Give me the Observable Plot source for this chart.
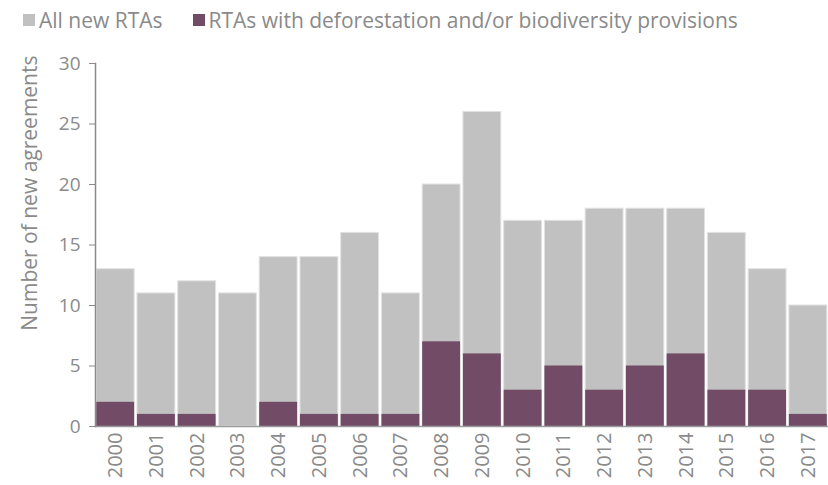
<!DOCTYPE html>
<html>
<head>
<meta charset="utf-8">
<script src="https://cdn.jsdelivr.net/npm/d3@7"></script>
<script src="https://cdn.jsdelivr.net/npm/@observablehq/plot@0.6"></script>
<style>
  body { margin: 0; background: #fff; font-family: "Open Sans", sans-serif; }
  #legend { height: 40px; display: flex; align-items: center; padding-left: 23px; font-size: 21px; color: #8a8a8a; }
  .item { display: flex; align-items: center; margin-right: 30px; }
  .sw { width: 12px; height: 12px; margin-right: 4px; }
</style>
</head>
<body>
<div id="legend"></div>
<div id="chart"></div>
<script>
const years = ["2000","2001","2002","2003","2004","2005","2006","2007","2008","2009","2010","2011","2012","2013","2014","2015","2016","2017"];
const allRTAs = [13,11,12,11,14,14,16,11,20,26,17,17,18,18,18,16,13,10];
const deforRTAs = [2,1,1,0,2,1,1,1,7,6,3,5,3,5,6,3,3,1];
const seriesNames = ["All new RTAs", "RTAs with deforestation and/or biodiversity provisions"];
const colors = ["#c0c1c0", "#724c66"];
const yTicks = [0,5,10,15,20,25,30];
const yLabel = "Number of new agreements";

const data = years.map((y, i) => ({year: y, all: allRTAs[i], defor: deforRTAs[i]}));

const legend = document.getElementById("legend");
seriesNames.forEach((n, i) => {
  const it = document.createElement("div");
  it.className = "item";
  it.innerHTML = `<div class="sw" style="background:${colors[i]}"></div><span>${n}</span>`;
  legend.appendChild(it);
});

const chart = Plot.plot({
  width: 828,
  height: 445,
  marginTop: 23,
  marginBottom: 59,
  marginLeft: 95,
  marginRight: 0,
  style: {fontFamily: "Open Sans, sans-serif", fontSize: "19px", color: "#8a8a8a", background: "#fff"},
  x: {domain: years, paddingInner: 0.07, paddingOuter: 0.03, round: false, label: null},
  y: {domain: [0, 30], label: null},
  marks: [
    Plot.barY(data, {x: "year", y: "all", fill: colors[0], stroke: "#e2e2e2", strokeWidth: 1}),
    Plot.barY(data, {x: "year", y: "defor", fill: colors[1]}),
    Plot.ruleY([0], {stroke: "#9a9a9a", strokeWidth: 1.5}),
    Plot.frame({anchor: "left", stroke: "#8a8a8a", strokeWidth: 1.5}),
    Plot.axisY({ticks: yTicks, tickSize: 6, tickPadding: 9, fontSize: 19, stroke: "#8a8a8a", label: null}),
    Plot.axisX({tickRotate: -90, tickSize: 0, tickPadding: 6, fontSize: 20, label: null}),
    Plot.text([yLabel], {text: d => d, frameAnchor: "top-left", rotate: -90, textAnchor: "end",
      dx: -73, dy: -8, fontSize: 21, fill: "#8a8a8a"})
  ]
});
document.getElementById("chart").appendChild(chart);
</script>
</body>
</html>
